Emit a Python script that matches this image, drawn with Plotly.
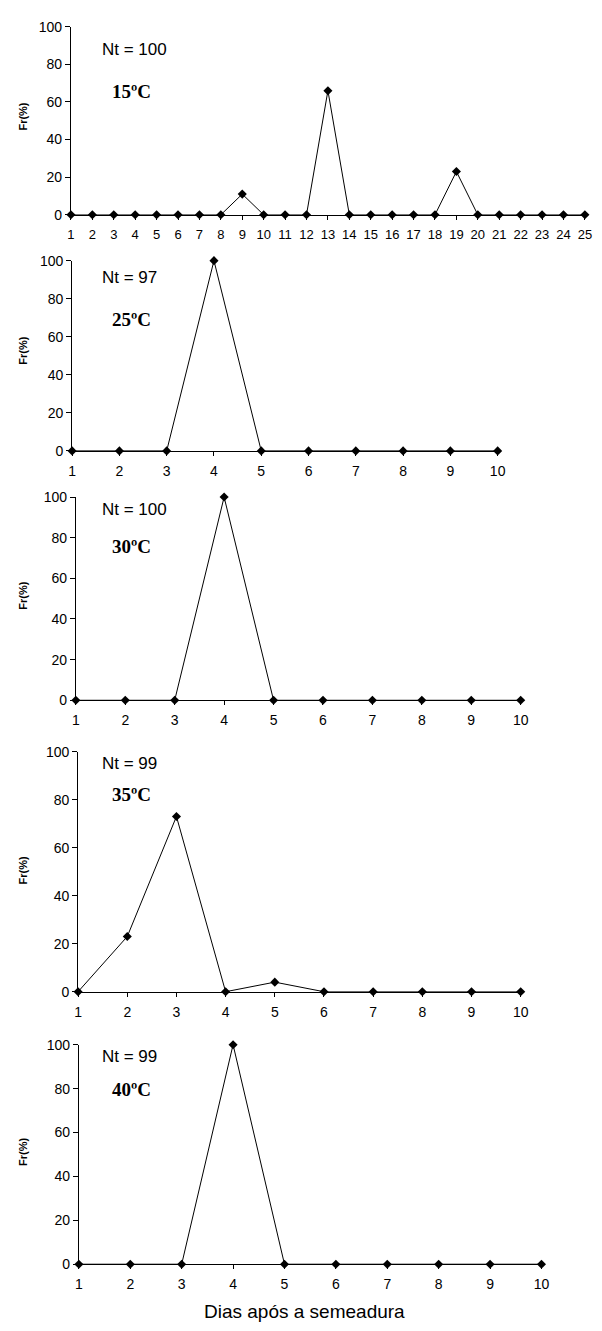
import plotly.graph_objects as go

W, H = 602, 1331

# ---- data ----
days_15 = [1, 2, 3, 4, 5, 6, 7, 8, 9, 10, 11, 12, 13, 14, 15, 16, 17, 18, 19, 20, 21, 22, 23, 24, 25]
fr_15 = [0, 0, 0, 0, 0, 0, 0, 0, 11, 0, 0, 0, 66, 0, 0, 0, 0, 0, 23, 0, 0, 0, 0, 0, 0]
days_10 = [1, 2, 3, 4, 5, 6, 7, 8, 9, 10]
fr_25 = [0, 0, 0, 100, 0, 0, 0, 0, 0, 0]
fr_30 = [0, 0, 0, 100, 0, 0, 0, 0, 0, 0]
fr_35 = [0, 23, 73, 0, 4, 0, 0, 0, 0, 0]
fr_40 = [0, 0, 0, 100, 0, 0, 0, 0, 0, 0]

temps = ["15ºC", "25ºC", "30ºC", "35ºC", "40ºC"]
nts = ["Nt = 100", "Nt = 97", "Nt = 100", "Nt = 99", "Nt = 99"]
y_ticks = [0, 20, 40, 60, 80, 100]
y_title = "Fr(%)"
x_title = "Dias após a semeadura"

series = [(days_15, fr_15), (days_10, fr_25), (days_10, fr_30), (days_10, fr_35), (days_10, fr_40)]

# ---- layout geometry (pixels) ----
panels = [
    dict(xl=68.3, xr=592.7, yt=19.0, yb=209.3, tfs=13, ytc=110, nty=42.3, ty=85),
    dict(xl=69.5, xr=503.7, yt=255.7, yb=448.3, tfs=14, ytc=347, nty=272.7, ty=315),
    dict(xl=73.3, xr=527.2, yt=495.0, yb=700.7, tfs=14, ytc=595, nty=507.7, ty=545),
    dict(xl=75.6, xr=527.2, yt=752.7, yb=995.7, tfs=14, ytc=873, nty=764.3, ty=796),
    dict(xl=76.4, xr=548.4, yt=1049.3, yb=1271.5, tfs=14, ytc=1158, nty=1061.7, ty=1095),
]

def fx(x):
    return x / W

def fy(y):
    return 1 - y / H

fig = go.Figure()
annotations = []
layout = {}

for i, ((xs, ys), p) in enumerate(zip(series, panels)):
    n = i + 1
    xa = "x" if n == 1 else f"x{n}"
    ya = "y" if n == 1 else f"y{n}"
    fig.add_trace(go.Scatter(
        x=xs, y=ys, xaxis=xa, yaxis=ya, mode="lines+markers",
        line=dict(color="black", width=1),
        marker=dict(symbol="diamond", size=7, color="black"),
        cliponaxis=False, showlegend=False, hoverinfo="x+y",
    ))
    xkey = "xaxis" if n == 1 else f"xaxis{n}"
    ykey = "yaxis" if n == 1 else f"yaxis{n}"
    layout[xkey] = dict(
        domain=[fx(p["xl"]), fx(p["xr"])], range=[xs[0], xs[-1]], anchor=ya,
        tickmode="array", tickvals=xs, ticktext=[str(v) for v in xs],
        ticks="outside", ticklen=4, tickcolor="black", tickwidth=1,
        ticklabelstandoff=3,
        showline=True, linecolor="black", linewidth=1.3,
        showgrid=False, zeroline=False,
        tickfont=dict(family="Arial, Liberation Sans, sans-serif", size=p["tfs"], color="black"),
        fixedrange=True,
    )
    layout[ykey] = dict(
        domain=[fy(p["yb"]), fy(p["yt"])], range=[0, 100], anchor=xa,
        tickmode="array", tickvals=y_ticks,
        ticks="outside", ticklen=5, tickcolor="black", tickwidth=1,
        showline=True, linecolor="black", linewidth=1,
        showgrid=False, zeroline=False,
        tickfont=dict(family="Arial, Liberation Sans, sans-serif", size=14, color="black"),
        fixedrange=True,
    )
    annotations.append(dict(
        x=fx(19.3), y=fy(p["ytc"]), xref="paper", yref="paper", text=f"<b>{y_title}</b>",
        textangle=-90, showarrow=False, xanchor="center", yanchor="middle",
        font=dict(family="Arial, Liberation Sans, sans-serif", size=11, color="black"),
    ))
    annotations.append(dict(
        x=fx(97.8), y=fy(p["nty"]), xref="paper", yref="paper", text=nts[i],
        showarrow=False, xanchor="left", yanchor="middle",
        font=dict(family="Arial, Liberation Sans, sans-serif", size=17, color="black"),
    ))
    annotations.append(dict(
        x=fx(130), y=fy(p["ty"]), xref="paper", yref="paper", text=f"<b>{temps[i]}</b>",
        showarrow=False, xanchor="center", yanchor="middle",
        font=dict(family="Times New Roman, Liberation Serif, serif", size=19, color="black"),
    ))

annotations.append(dict(
    x=fx(306.8), y=fy(1319), xref="paper", yref="paper", text=x_title,
    showarrow=False, xanchor="center", yanchor="middle",
    font=dict(family="Arial, Liberation Sans, sans-serif", size=19, color="black"),
))

fig.update_layout(
    width=W, height=H, margin=dict(l=0, r=0, t=0, b=0),
    paper_bgcolor="white", plot_bgcolor="white",
    annotations=annotations, showlegend=False,
    **layout,
)

fig.write_html("out.html", config={"displayModeBar": False})
